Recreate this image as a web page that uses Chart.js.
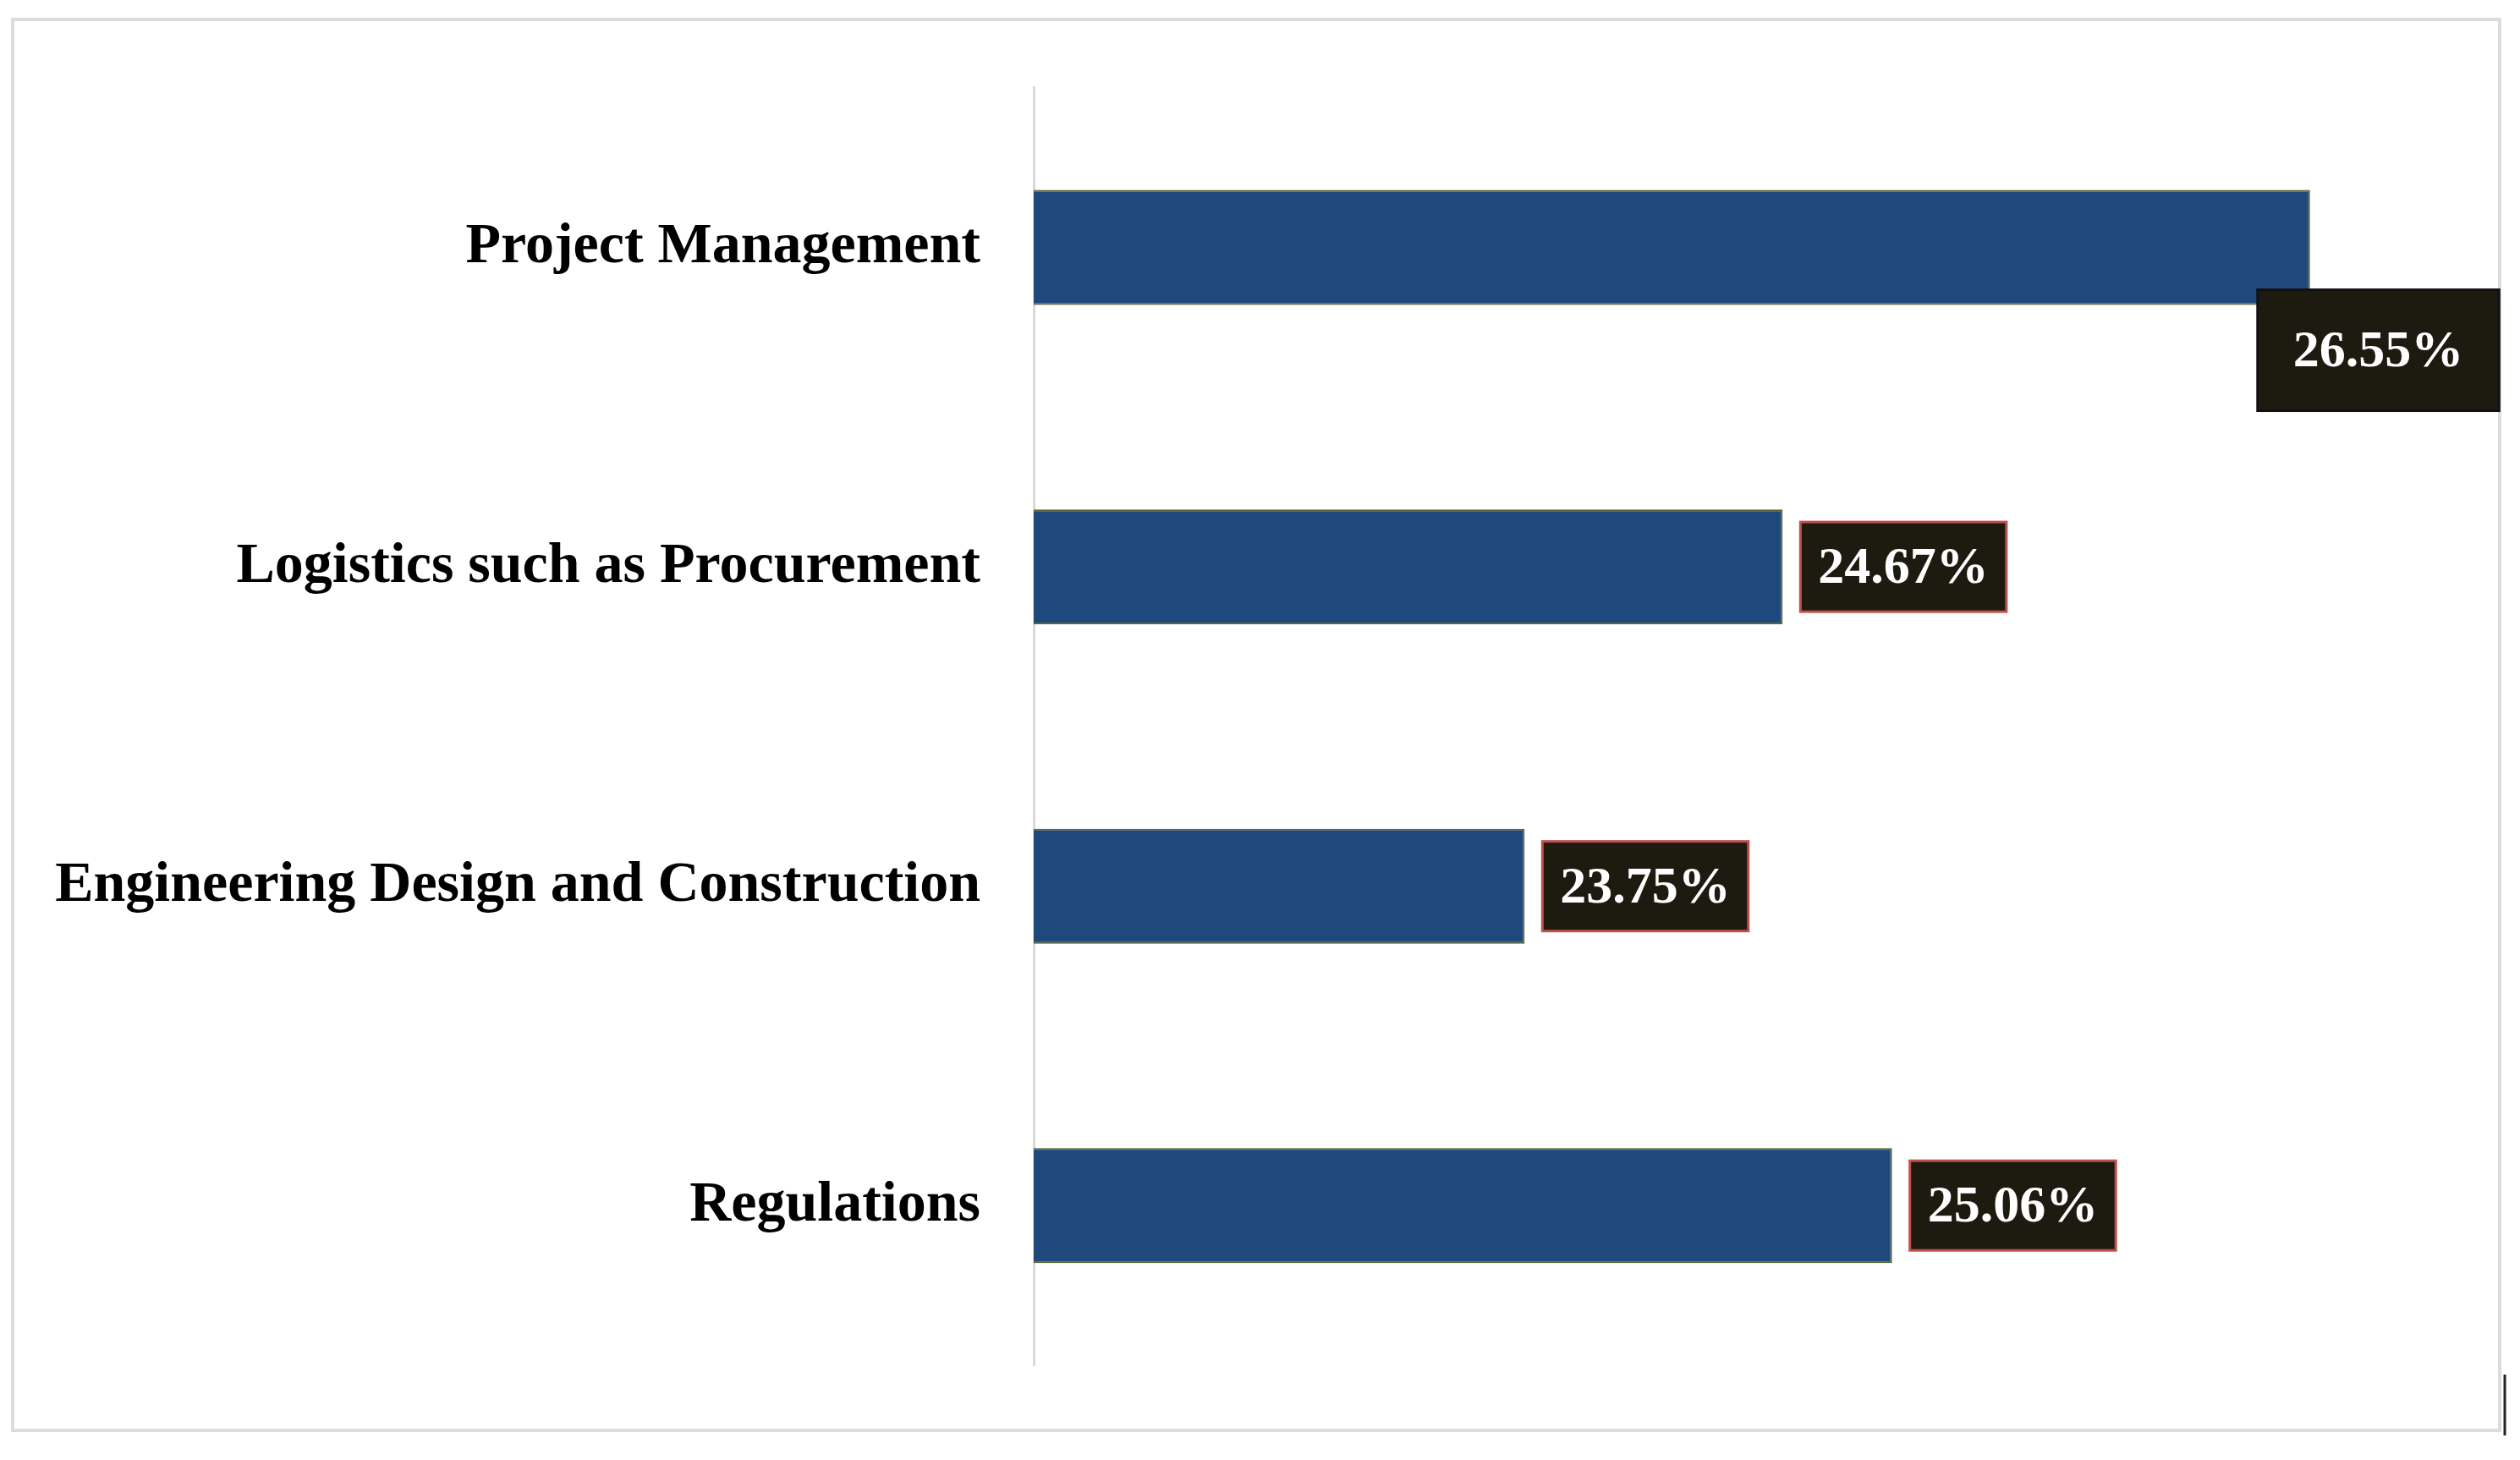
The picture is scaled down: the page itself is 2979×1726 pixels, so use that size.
<!DOCTYPE html>
<html>
<head>
    <title>Bar chart</title>
    <script src="https://cdn.jsdelivr.net/npm/chart.js"></script>
    <style>
        html, body { margin: 0; padding: 0; background: #ffffff; }
    </style>
</head>
<body>
    <canvas id="mainChart" width="2979" height="1726"></canvas>
    <script>
        const categories = ['Project Management', 'Logistics such as Procurement', 'Engineering Design and Construction', 'Regulations'];
        const shares = [26.55, 24.67, 23.75, 25.06];

        // frame round the picture
        const framePlugin = {
            id: 'frame',
            beforeDraw(chart) {
                const ctx = chart.ctx;
                ctx.save();
                ctx.fillStyle = '#ffffff';
                ctx.fillRect(0, 0, chart.width, chart.height);
                ctx.strokeStyle = '#dcdcdc';
                ctx.lineWidth = 4;
                ctx.strokeRect(15, 23, 2940, 1668);
                // small dark mark at the lower right corner
                ctx.strokeStyle = '#222222';
                ctx.lineWidth = 3;
                ctx.beginPath();
                ctx.moveTo(2961, 1625);
                ctx.lineTo(2961, 1697);
                ctx.stroke();
                ctx.restore();
            }
        };

        // value boxes at the bar ends
        const valueBoxes = {
            id: 'valueBoxes',
            afterDatasetsDraw(chart) {
                const ctx = chart.ctx;
                const meta = chart.getDatasetMeta(0);
                ctx.save();
                ctx.font = 'bold 62px "Liberation Serif"';
                ctx.textAlign = 'center';
                ctx.textBaseline = 'middle';
                meta.data.forEach((bar, i) => {
                    const text = shares[i].toFixed(2) + '%';
                    const tw = ctx.measureText(text).width;
                    let w = tw + 42, h = 106;
                    let left = bar.x + 21, top = bar.y - h / 2;
                    let border = '#c0504d';
                    if (left + w > chart.width - 30) {
                        // no room on the right: drop below the bar end
                        w = tw + 84; h = 143;
                        left = bar.x - 62;
                        top = bar.y + bar.height / 2 - 18;
                        border = '#111111';
                    }
                    ctx.fillStyle = '#1d1b10';
                    ctx.fillRect(left, top, w, h);
                    ctx.strokeStyle = border;
                    ctx.lineWidth = 3;
                    ctx.strokeRect(left, top, w, h);
                    ctx.fillStyle = '#ffffff';
                    ctx.fillText(text, left + w / 2, top + h / 2 + 3);
                });
                ctx.restore();
            }
        };

        new Chart(document.getElementById('mainChart'), {
            type: 'bar',
            data: {
                labels: categories,
                datasets: [{
                    data: shares,
                    backgroundColor: '#1f497d',
                    borderColor: '#56683a',
                    borderWidth: 2,
                    borderSkipped: 'left',
                    categoryPercentage: 0.72,
                    barPercentage: 0.5
                }]
            },
            options: {
                indexAxis: 'y',
                responsive: false,
                animation: false,
                layout: { padding: { top: 93, bottom: 112, right: 99, left: 0 } },
                scales: {
                    x: {
                        display: false,
                        min: 22,
                        max: 27
                    },
                    y: {
                        afterFit: scale => { scale.width = 1222; },
                        grid: { display: false, drawTicks: false },
                        border: { display: true, color: '#d9d9d9', width: 3 },
                        ticks: {
                            padding: 63,
                            color: '#000000',
                            font: { family: '"Liberation Serif"', size: 68, weight: 'bold' }
                        }
                    }
                },
                plugins: {
                    legend: { display: false },
                    tooltip: { enabled: false }
                }
            },
            plugins: [framePlugin, valueBoxes]
        });
    </script>
</body>
</html>
